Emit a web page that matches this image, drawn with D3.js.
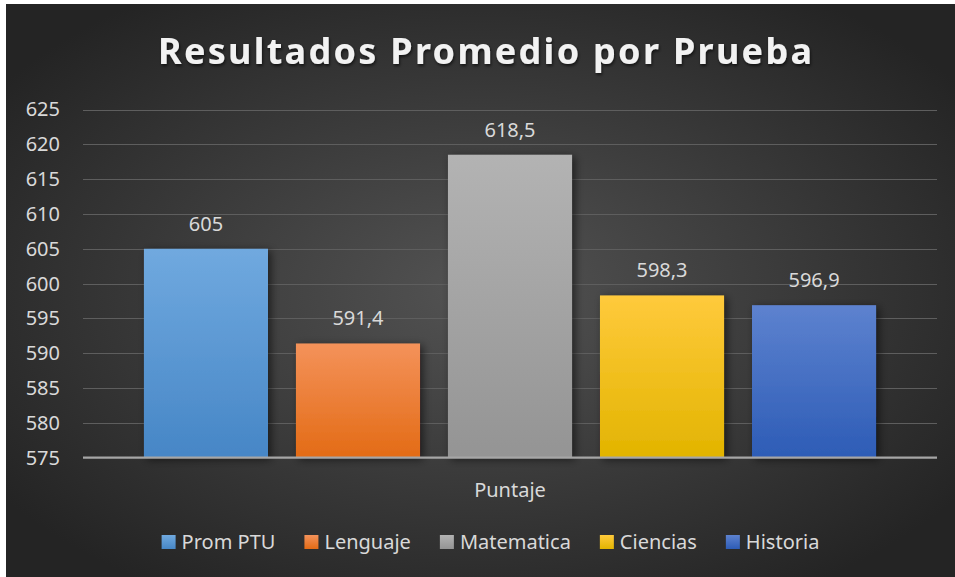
<!DOCTYPE html>
<html>
<head>
<meta charset="utf-8">
<script src="https://cdn.jsdelivr.net/npm/d3@7"></script>
<style>
  html, body { margin: 0; padding: 0; background: #ffffff; }
  svg { display: block; font-family: "Noto Sans", "Open Sans", sans-serif; }
</style>
</head>
<body>
<svg id="viz" width="955" height="577"></svg>
<script>
// chart values
const series = ['Prom PTU', 'Lenguaje', 'Matematica', 'Ciencias', 'Historia'];
const scores = [605, 591.4, 618.5, 598.3, 596.9];
const yTicks = [575, 580, 585, 590, 595, 600, 605, 610, 615, 620, 625];
const category = 'Puntaje';
const title = 'Resultados Promedio por Prueba';

// top / bottom colour of each bar gradient
const colTop = ['#70a9df', '#f4925a', '#b3b3b3', '#ffca3c', '#5d82cf'];
const colBot = ['#4686c6', '#e36b15', '#949494', '#e2b400', '#2d5cb6'];

const svg = d3.select('#viz');
const defs = svg.append('defs');

// background radial gradient
const bg = defs.append('radialGradient').attr('id', 'bg')
  .attr('cx', '50%').attr('cy', '50%').attr('r', '62%');
bg.append('stop').attr('offset', '0%').attr('stop-color', '#535353');
bg.append('stop').attr('offset', '100%').attr('stop-color', '#242424');

series.forEach((s, i) => {
  const g = defs.append('linearGradient').attr('id', 'bar' + i)
    .attr('x1', 0).attr('y1', 0).attr('x2', 0).attr('y2', 1);
  g.append('stop').attr('offset', '0%').attr('stop-color', colTop[i]);
  g.append('stop').attr('offset', '100%').attr('stop-color', colBot[i]);
});

const shadow = defs.append('filter').attr('id', 'shadow')
  .attr('x', '-20%').attr('y', '-20%').attr('width', '150%').attr('height', '150%');
shadow.append('feDropShadow').attr('dx', 3).attr('dy', 2)
  .attr('stdDeviation', 4).attr('flood-color', '#000').attr('flood-opacity', 0.55);

const tshadow = defs.append('filter').attr('id', 'tshadow')
  .attr('x', '-10%').attr('y', '-30%').attr('width', '120%').attr('height', '170%');
tshadow.append('feDropShadow').attr('dx', 1).attr('dy', 2)
  .attr('stdDeviation', 1.5).attr('flood-color', '#000').attr('flood-opacity', 0.6);

svg.append('rect')
  .attr('x', 6).attr('y', 4)
  .attr('width', 949).attr('height', 573)
  .attr('fill', 'url(#bg)');

// scales
const plotL = 83, plotR = 937;
const y = d3.scaleLinear().domain([575, 625]).range([457.7, 109.5]);
const x = d3.scaleBand().domain(series).range([plotL, plotR])
  .paddingInner(0.184).paddingOuter(0.401);

// gridlines
svg.append('g')
  .selectAll('line')
  .data(yTicks.slice(1))
  .join('line')
  .attr('x1', plotL).attr('x2', plotR)
  .attr('y1', (d) => Math.round(y(d)) + 0.5)
  .attr('y2', (d) => Math.round(y(d)) + 0.5)
  .attr('stroke', '#5e5e5e')
  .attr('stroke-width', 1.2);

// y axis labels
const yAxis = svg.append('g')
  .attr('transform', 'translate(' + (plotL - 2) + ',0)')
  .call(d3.axisLeft(y).tickValues(yTicks).tickSize(0).tickPadding(21));
yAxis.select('.domain').remove();
yAxis.selectAll('text')
  .attr('fill', '#d9d9d9')
  .style('font-size', '20px')
  .style('font-family', '"Noto Sans", sans-serif');

// bars
svg.append('g')
  .selectAll('rect')
  .data(scores)
  .join('rect')
  .attr('x', (d, i) => x(series[i]))
  .attr('y', (d) => y(d))
  .attr('width', x.bandwidth())
  .attr('height', (d) => y(575) - y(d))
  .attr('fill', (d, i) => 'url(#bar' + i + ')')
  .attr('filter', 'url(#shadow)');

// baseline
svg.append('line')
  .attr('x1', plotL).attr('x2', plotR)
  .attr('y1', y(575)).attr('y2', y(575))
  .attr('stroke', '#a6a6a6')
  .attr('stroke-width', 2.2);

// data labels
svg.append('g')
  .selectAll('text')
  .data(scores)
  .join('text')
  .attr('x', (d, i) => x(series[i]) + x.bandwidth() / 2)
  .attr('y', (d) => y(d) - 18)
  .attr('text-anchor', 'middle')
  .attr('fill', '#d9d9d9')
  .style('font-size', '20px')
  .text((d) => String(d).replace('.', ','));

// category label
svg.append('text')
  .attr('x', (plotL + plotR) / 2)
  .attr('y', 497)
  .attr('text-anchor', 'middle')
  .attr('fill', '#d9d9d9')
  .style('font-size', '20px')
  .text(category);

// title
svg.append('text')
  .attr('x', 158)
  .attr('y', 64)
  .attr('textLength', 654)
  .attr('lengthAdjust', 'spacing')
  .attr('fill', '#f2f2f2')
  .attr('filter', 'url(#tshadow)')
  .style('font-size', '36px')
  .style('font-weight', 'bold')
  .text(title);

// legend
const legend = svg.append('g');
let lx = 0;
series.forEach((s, i) => {
  const item = legend.append('g').attr('transform', 'translate(' + lx + ',0)');
  item.append('rect')
    .attr('x', 0).attr('y', 535)
    .attr('width', 14).attr('height', 14)
    .attr('fill', 'url(#bar' + i + ')');
  const t = item.append('text')
    .attr('x', 20).attr('y', 549)
    .attr('fill', '#d9d9d9')
    .style('font-size', '20px')
    .text(s);
  lx += 20 + t.node().getComputedTextLength() + 29;
});
const legendW = lx - 29;
legend.attr('transform', 'translate(' + (490.5 - legendW / 2) + ',0)');
</script>
</body>
</html>
